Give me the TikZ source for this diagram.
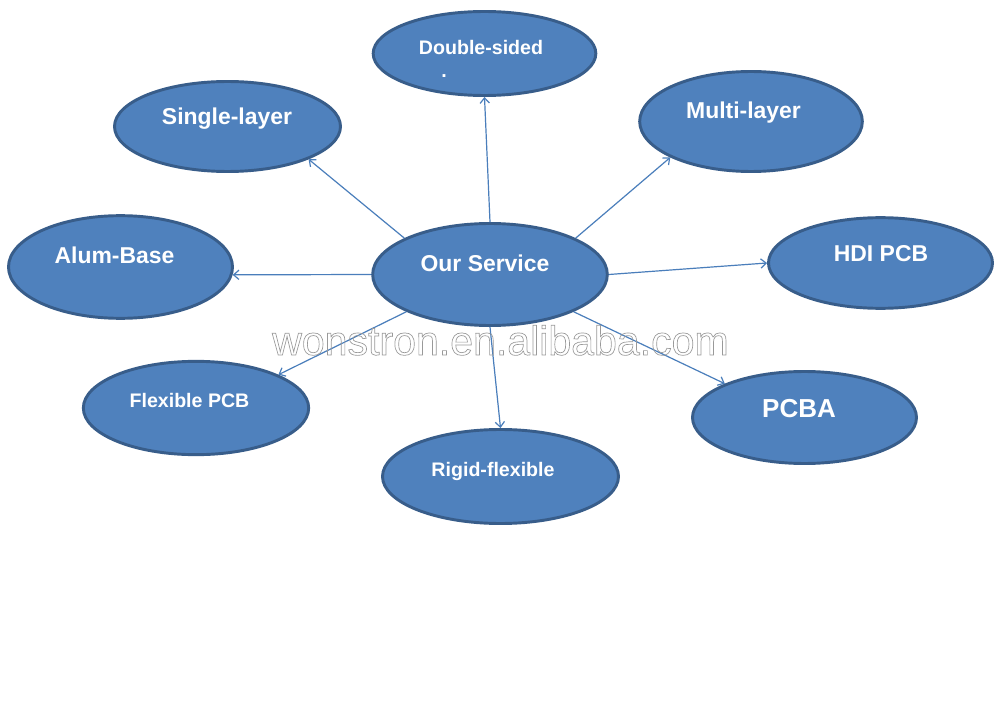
\documentclass[tikz,border=0pt]{standalone}
\usepackage{fontspec}
\setmainfont{Liberation Sans}
\usetikzlibrary{shapes.geometric,arrows.meta}
\definecolor{efill}{HTML}{4F81BD}
\definecolor{edraw}{HTML}{385D8A}
\definecolor{aline}{HTML}{4A7EBB}
\begin{document}
\begin{tikzpicture}[x=0.75pt,y=-0.75pt,
  bubble/.style={ellipse,draw=edraw,fill=efill,line width=2.2pt,inner sep=0pt},
  lbl/.style={text=white,font=\bfseries,inner sep=0pt,anchor=base},
  conn/.style={draw=aline,line width=0.9pt,-{Straight Barb[length=4pt,width=7pt]}}]
\useasboundingbox[fill=white] (0,0) rectangle (1000,706);
% bubbles
\node[bubble,minimum width=167pt,minimum height=63pt] (ds) at (484.5,53.5) {};
\node[bubble,minimum width=169.5pt,minimum height=67.5pt] (sl) at (227.5,126.5) {};
\node[bubble,minimum width=167pt,minimum height=75pt] (ml) at (751,121.5) {};
\node[bubble,minimum width=168pt,minimum height=77pt] (ab) at (120.5,267) {};
\node[bubble,minimum width=176pt,minimum height=76.5pt] (os) at (490,274.5) {};
\node[bubble,minimum width=168pt,minimum height=68pt] (hdi) at (880.5,263) {};
\node[bubble,minimum width=169pt,minimum height=70pt] (fl) at (196,408) {};
\node[bubble,minimum width=168pt,minimum height=69pt] (pcba) at (804.5,417.5) {};
\node[bubble,minimum width=177pt,minimum height=70.5pt] (rf) at (500.5,476.5) {};
% labels
\node[lbl,font=\bfseries\fontsize{14.7pt}{16pt}\selectfont] (tds) at (481,55) {Double-sided};
\node[lbl,font=\bfseries\fontsize{14.7pt}{16pt}\selectfont] (tdot) at (444,78) {.};
\node[lbl,font=\bfseries\fontsize{17.2pt}{19pt}\selectfont] (tsl) at (227,125) {Single-layer};
\node[lbl,font=\bfseries\fontsize{17.2pt}{19pt}\selectfont] (tml) at (743.5,119) {Multi-layer};
\node[lbl,font=\bfseries\fontsize{17.2pt}{19pt}\selectfont] (tab) at (114.5,263) {Alum-Base};
\node[lbl,font=\bfseries\fontsize{17.2pt}{19pt}\selectfont] (tos) at (485,272) {Our Service};
\node[lbl,font=\bfseries\fontsize{17.2pt}{19pt}\selectfont] (thdi) at (881,262) {HDI PCB};
\node[lbl,font=\bfseries\fontsize{14.7pt}{16pt}\selectfont] (tfl) at (189.5,407) {Flexible PCB};
\node[lbl,font=\bfseries\fontsize{19.5pt}{22pt}\selectfont] (tpcba) at (799,417) {PCBA};
\node[lbl,font=\bfseries\fontsize{14.7pt}{16pt}\selectfont] (trf) at (493,476) {Rigid-flexible};
% connectors
\draw[conn] (os.90) -- (ds.270);
\draw[conn] (os.157.6) -- (sl.338.8);
\draw[conn] (os.23.5) -- (ml.204.8);
\draw[conn] (os.180) -- (ab.356);
\draw[conn] (os.0) -- (hdi.180);
\draw[conn] (os.204) -- (fl.22);
\draw[conn] (os.336) -- (pcba.157);
\draw[conn] (os.270) -- (rf.90);
% watermark
\node[inner sep=0pt,anchor=base,font=\fontsize{30.8pt}{34pt}\selectfont] (wm) at (500.5,355)
  {\special{pdf:literal 1 Tr 0.5 w 0.6 G}wonstron.en.alibaba.com\special{pdf:literal 0 Tr}};
\end{tikzpicture}
\end{document}
